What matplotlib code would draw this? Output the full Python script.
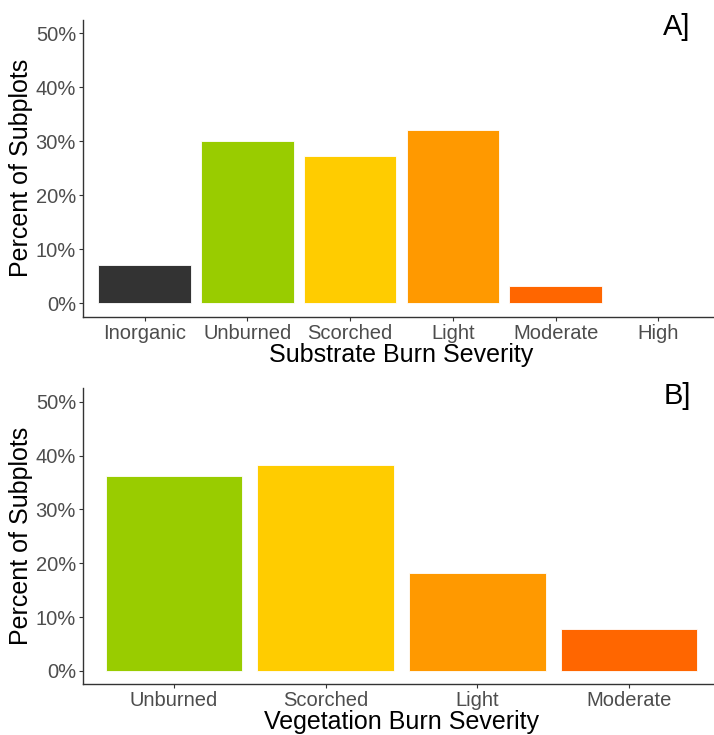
import matplotlib
matplotlib.use("Agg")
from matplotlib import pyplot as plt
from matplotlib.ticker import FuncFormatter

# Panel A: substrate burn severity
substrate_classes = ["Inorganic", "Unburned", "Scorched", "Light", "Moderate", "High"]
substrate_pct = [7.1, 30.0, 27.3, 32.2, 3.1, 0.0]
substrate_colors = ["#333333", "#99CC00", "#FFCC00", "#FF9900", "#FF6600", "#CC0000"]

# Panel B: vegetation burn severity
vegetation_classes = ["Unburned", "Scorched", "Light", "Moderate"]
vegetation_pct = [36.2, 38.2, 18.2, 7.8]
vegetation_colors = ["#99CC00", "#FFCC00", "#FF9900", "#FF6600"]

y_ticks = [0, 10, 20, 30, 40, 50]

plt.rcParams['font.family'] = ['Liberation Sans', 'DejaVu Sans']

W, H = 714, 735
fig = plt.figure(figsize=(W / 100, H / 100), dpi=100)


def px_axes(left, top, right, bottom):
    return fig.add_axes([left / W, 1 - bottom / H, (right - left) / W, (bottom - top) / H])


def draw_panel(ax, classes, values, colors, xlabel):
    xs = list(range(len(classes)))
    ax.bar(xs, values, width=0.9, color=colors, edgecolor="white", linewidth=0.6)
    ax.set_xlim(-0.6, len(classes) - 0.4)
    ax.set_ylim(-2.5, 52.5)
    ax.set_xticks(xs)
    ax.set_xticklabels(classes)
    ax.set_yticks(y_ticks)
    ax.yaxis.set_major_formatter(FuncFormatter(lambda v, p: f"{v:.0f}%"))
    for side in ["top", "right"]:
        ax.spines[side].set_visible(False)
    for side in ["left", "bottom"]:
        ax.spines[side].set_color("#333333")
        ax.spines[side].set_linewidth(1.0)
    ax.tick_params(axis="both", length=3, width=0.8, color="#333333",
                   labelsize=14.5, labelcolor="#4D4D4D", pad=2)
    ax.set_xlabel(xlabel, fontsize=18, color="black", labelpad=0)
    ax.set_ylabel("Percent of Subplots", fontsize=18, color="black", labelpad=2)


ax_a = px_axes(83, 20, 720, 316.7)
draw_panel(ax_a, substrate_classes, substrate_pct, substrate_colors,
           "Substrate Burn Severity")
fig.text(677 / W, 1 - 27 / H, "A]", fontsize=21, ha="center", va="center")

ax_b = px_axes(83, 388.3, 720, 684.3)
draw_panel(ax_b, vegetation_classes, vegetation_pct, vegetation_colors,
           "Vegetation Burn Severity")
fig.text(677 / W, 1 - 396 / H, "B]", fontsize=21, ha="center", va="center")

fig.savefig("out.png", dpi=100)
